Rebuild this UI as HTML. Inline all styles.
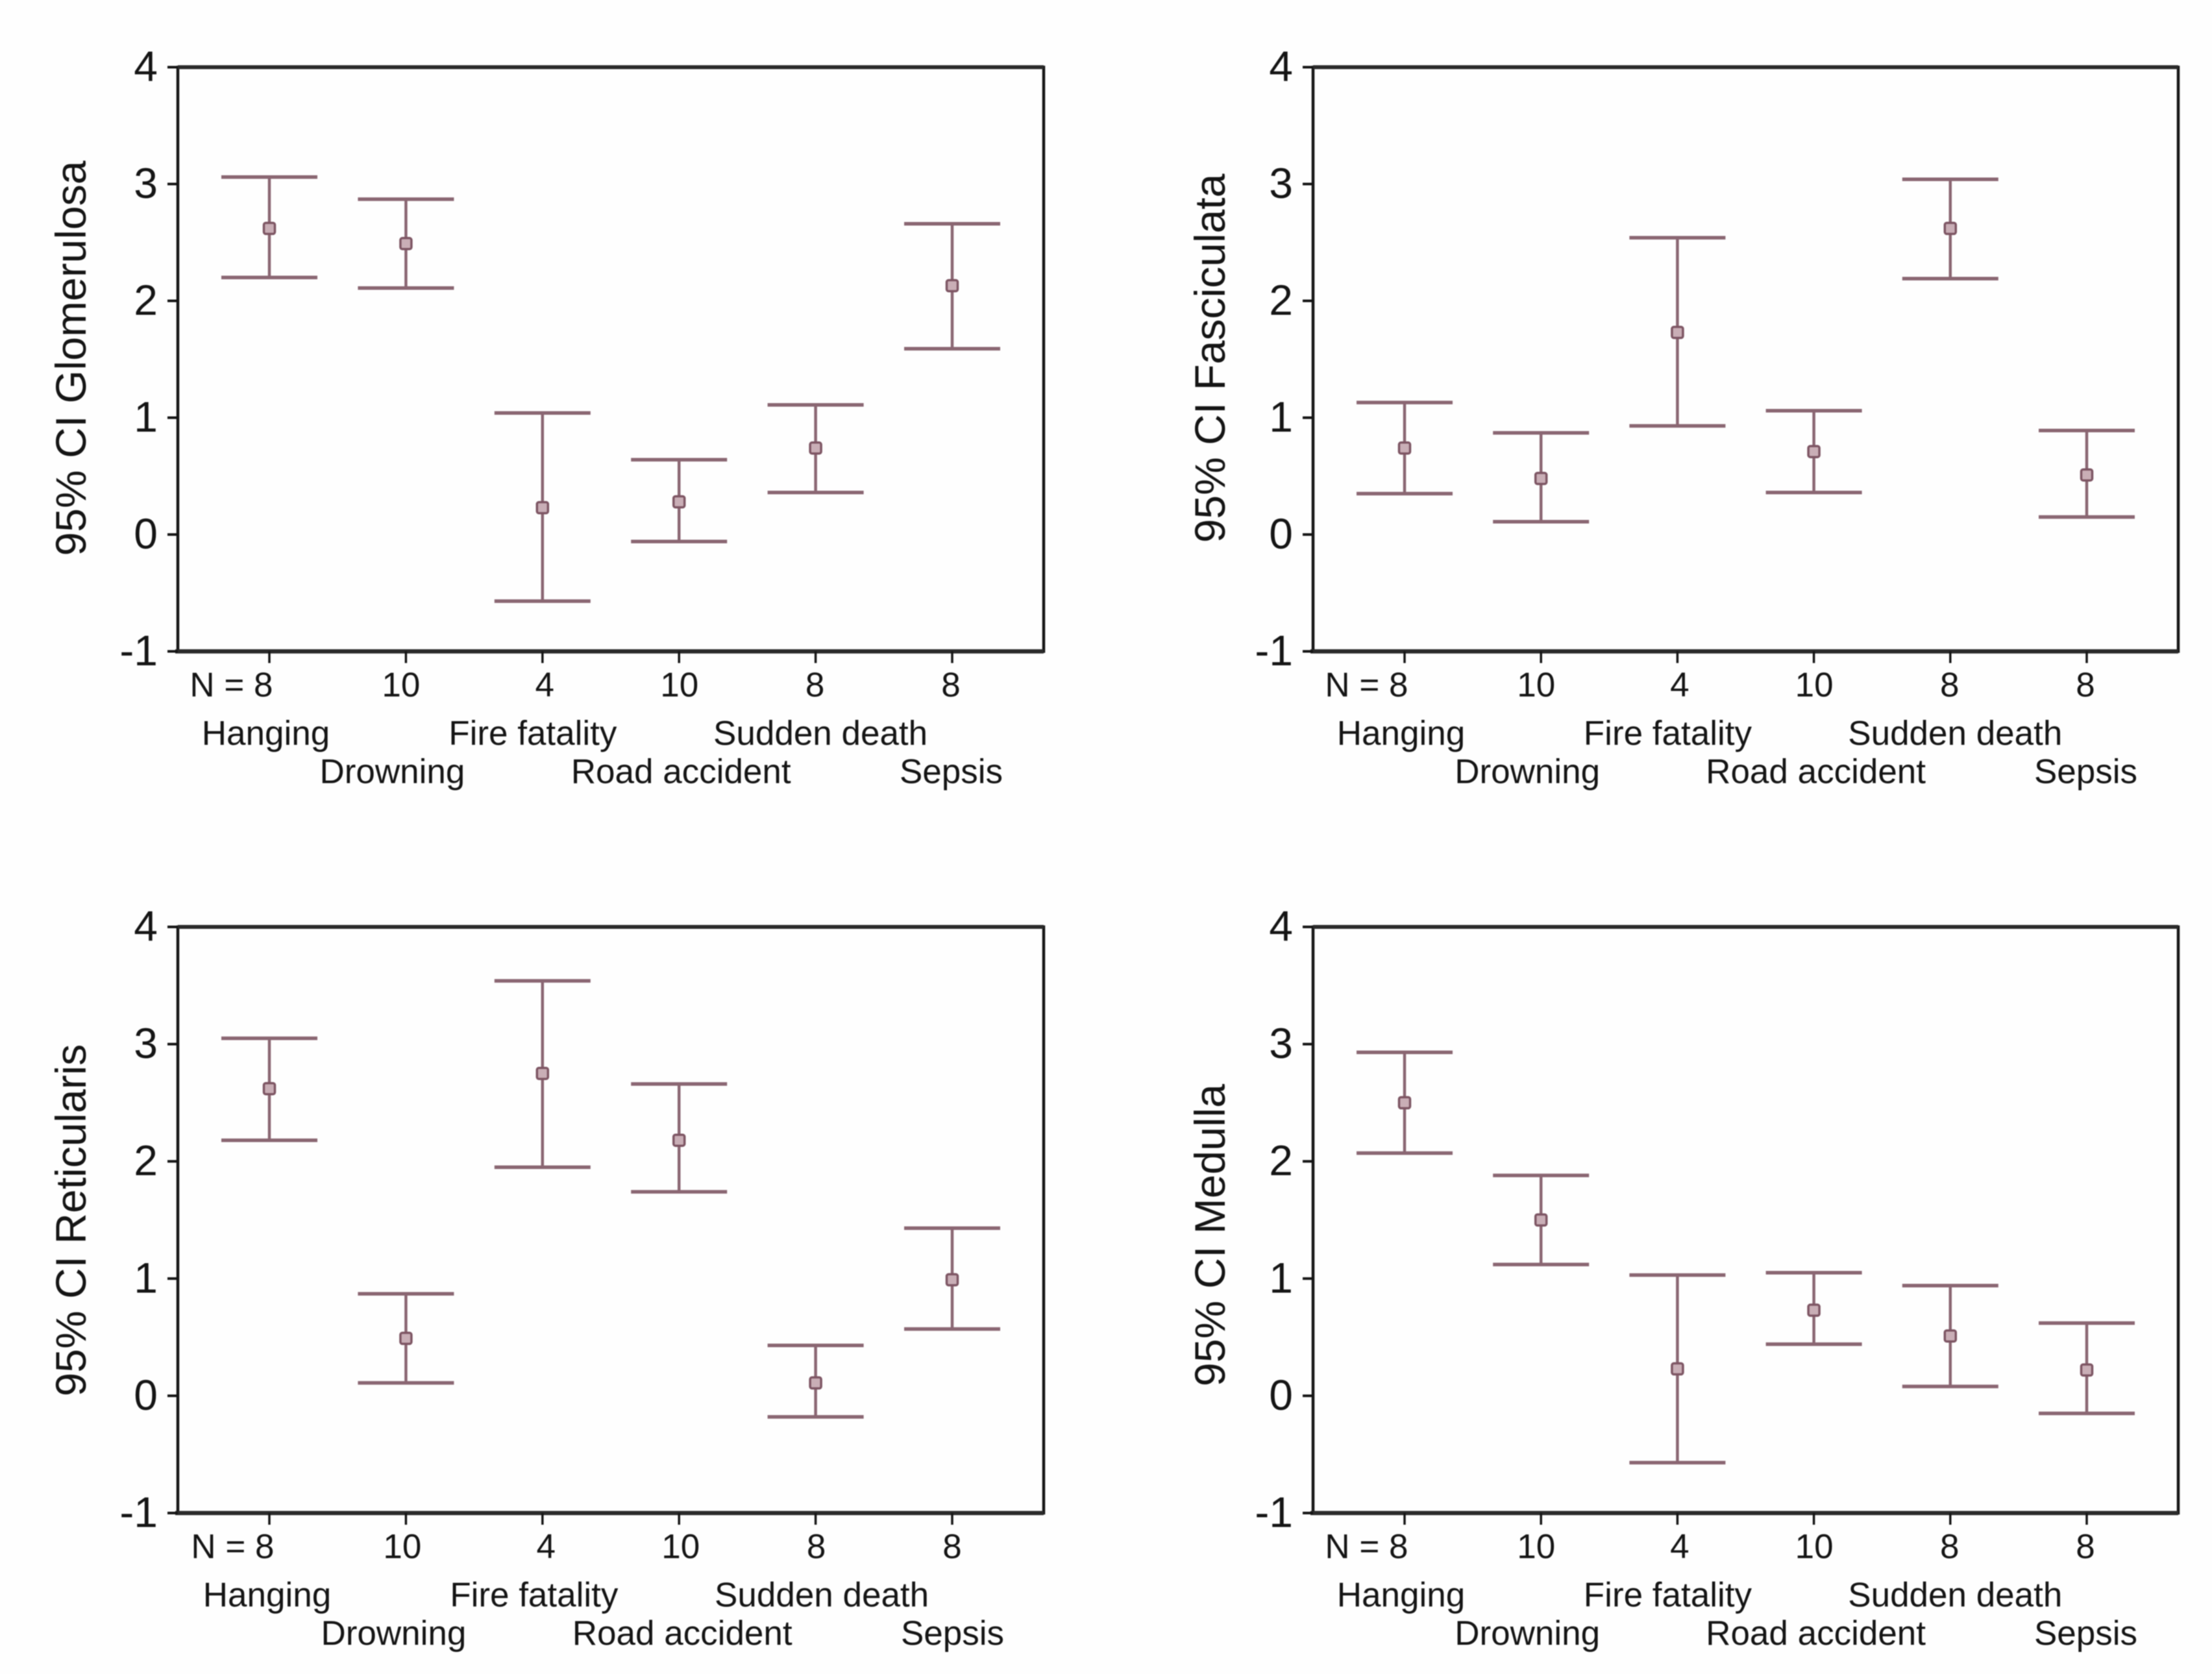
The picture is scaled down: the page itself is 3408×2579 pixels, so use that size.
<!DOCTYPE html>
<html lang="en">
<head>
<meta charset="utf-8">
<title>95% CI by cause of death</title>
<style>
html,body{margin:0;padding:0;background:#fefefe;}
#figure{display:block;width:3408px;height:2579px;filter:blur(0.9px);}
text{font-family:"Liberation Sans",Arial,sans-serif;fill:#141414;}
</style>
</head>
<body>
<svg id="figure" xmlns="http://www.w3.org/2000/svg" width="3408" height="2579" viewBox="0 0 3408 2579">
<rect x="0" y="0" width="3408" height="2579" fill="#fefefe"></rect>
</svg>
<script>
const categories = ["Hanging", "Drowning", "Fire fatality", "Road accident", "Sudden death", "Sepsis"];
const sampleSizes = [8, 10, 4, 10, 8, 8];
const yTickValues = [4, 3, 2, 1, 0, -1];

const glomerulosaUpper = [3.06, 2.87, 1.04, 0.64, 1.11, 2.66];
const glomerulosaMean = [2.62, 2.49, 0.23, 0.28, 0.74, 2.13];
const glomerulosaLower = [2.20, 2.11, -0.57, -0.06, 0.36, 1.59];

const fasciculataUpper = [1.13, 0.87, 2.54, 1.06, 3.04, 0.89];
const fasciculataMean = [0.74, 0.48, 1.73, 0.71, 2.62, 0.51];
const fasciculataLower = [0.35, 0.11, 0.93, 0.36, 2.19, 0.15];

const reticularisUpper = [3.05, 0.87, 3.54, 2.66, 0.43, 1.43];
const reticularisMean = [2.62, 0.49, 2.75, 2.18, 0.11, 0.99];
const reticularisLower = [2.18, 0.11, 1.95, 1.74, -0.18, 0.57];

const medullaUpper = [2.93, 1.88, 1.03, 1.05, 0.94, 0.62];
const medullaMean = [2.50, 1.50, 0.23, 0.73, 0.51, 0.22];
const medullaLower = [2.07, 1.12, -0.57, 0.44, 0.08, -0.15];

const panelTitles = ["95% CI Glomerulosa", "95% CI Fasciculata", "95% CI Reticularis", "95% CI Medulla"];
const panelUpper = [glomerulosaUpper, fasciculataUpper, reticularisUpper, medullaUpper];
const panelMean = [glomerulosaMean, fasciculataMean, reticularisMean, medullaMean];
const panelLower = [glomerulosaLower, fasciculataLower, reticularisLower, medullaLower];
const panelSlugs = ["glomerulosa", "fasciculata", "reticularis", "medulla"];

const NS = "http://www.w3.org/2000/svg";
const svg = document.getElementById("figure");
const BAR_COLOR = "#8a6672";
const FRAME_COLOR = "#141414";

function mk(parent, tag, attrs, content) {
  const el = document.createElementNS(NS, tag);
  for (const key in attrs) el.setAttribute(key, attrs[key]);
  if (content !== undefined) el.textContent = content;
  parent.appendChild(el);
  return el;
}

function layoutFor(index) {
  const col = index % 2;
  const row = index < 2 ? 0 : 1;
  return {
    left: col === 0 ? 274 : 2023,
    right: col === 0 ? 1608 : 3356,
    top: row === 0 ? 103.5 : 1428,
    bottom: row === 0 ? 1003.5 : 2331,
    titleX: col === 0 ? 132 : 1887,
    textShift: index === 2 ? 2 : 0
  };
}

function drawPanel(index) {
  const box = layoutFor(index);
  const slug = panelSlugs[index];
  const yMax = 4;
  const yMin = -1;
  const inset = 141;
  const yScale = v => box.top + (yMax - v) / (yMax - yMin) * (box.bottom - box.top);
  const step = (box.right - box.left - 2 * inset) / (categories.length - 1);
  const xScale = i => box.left + inset + i * step;

  const g = mk(svg, "g", {});
  
  

  const frame = mk(g, "rect", {
    x: box.left, y: box.top, width: box.right - box.left, height: box.bottom - box.top,
    fill: "none", stroke: FRAME_COLOR, "stroke-width": 4.5
  });
  
  

  const topRule = mk(g, "line", {
    x1: box.left, x2: box.right, y1: box.top, y2: box.top, stroke: "#2a2a2a", "stroke-width": 6
  });
  
  

  const bottomRule = mk(g, "line", {
    x1: box.left - 4, x2: box.right, y1: box.bottom, y2: box.bottom, stroke: "#2a2a2a", "stroke-width": 6.5
  });
  
  

  const title = mk(g, "text", {
    transform: "translate(" + box.titleX + "," + (index < 2 ? 552 : (index === 2 ? 1880 : 1903)) + ") rotate(-90)",
    "text-anchor": "middle", "font-size": 66
  }, panelTitles[index]);
  
  

  yTickValues.forEach(v => {
    const y = yScale(v);
    const tick = mk(g, "line", {
      x1: box.left - 16, x2: box.left, y1: y, y2: y, stroke: FRAME_COLOR, "stroke-width": 4
    });
    
    
    const label = mk(g, "text", {
      x: box.left - 31, y: y + 21.5, "text-anchor": "end", "font-size": 66
    }, String(v));
    
    
  });

  const nNudge = [5.5, -7.5, 3.5, 0.5, -1, -2];
  const catNudge = [-5.5, -21, -15, 3, 7.5, -1.5];
  const nY = box.bottom + 69.5;
  const catY1 = box.bottom + 144;
  const catY2 = box.bottom + 203;

  categories.forEach((cat, i) => {
    const x = xScale(i);

    const tick = mk(g, "line", {
      x1: x, x2: x, y1: box.bottom, y2: box.bottom + 18, stroke: FRAME_COLOR, "stroke-width": 3.5
    });
    
    

    const nLabel = mk(g, "text", {
      x: x + nNudge[i] + box.textShift, y: nY,
      "text-anchor": i === 0 ? "end" : "middle", "font-size": 53
    }, (i === 0 ? "N = " : "") + sampleSizes[i]);
    
    

    const catLabel = mk(g, "text", {
      x: x + catNudge[i] + box.textShift, y: i % 2 === 0 ? catY1 : catY2,
      "text-anchor": "middle", "font-size": 53
    }, cat);
    
    

    const yUp = yScale(panelUpper[index][i]);
    const yMid = yScale(panelMean[index][i]);
    const yLow = yScale(panelLower[index][i]);
    const capHalf = 74;

    const bar = mk(g, "g", {});
    
    

    const stem = mk(bar, "line", {
      x1: x, x2: x, y1: yUp, y2: yLow, stroke: BAR_COLOR, "stroke-width": 4.5
    });
    
    

    const capTop = mk(bar, "line", {
      x1: x - capHalf, x2: x + capHalf, y1: yUp, y2: yUp, stroke: BAR_COLOR, "stroke-width": 5.5
    });
    
    

    const capBottom = mk(bar, "line", {
      x1: x - capHalf, x2: x + capHalf, y1: yLow, y2: yLow, stroke: BAR_COLOR, "stroke-width": 5.5
    });
    
    

    const marker = mk(bar, "rect", {
      x: x - 8.5, y: yMid - 8.5, width: 17, height: 17, rx: 3,
      fill: "#c9aeb6", stroke: "#7d5563", "stroke-width": 3.5
    });
    
    
  });
}

panelTitles.forEach((_, i) => drawPanel(i));
</script>
</body>
</html>
